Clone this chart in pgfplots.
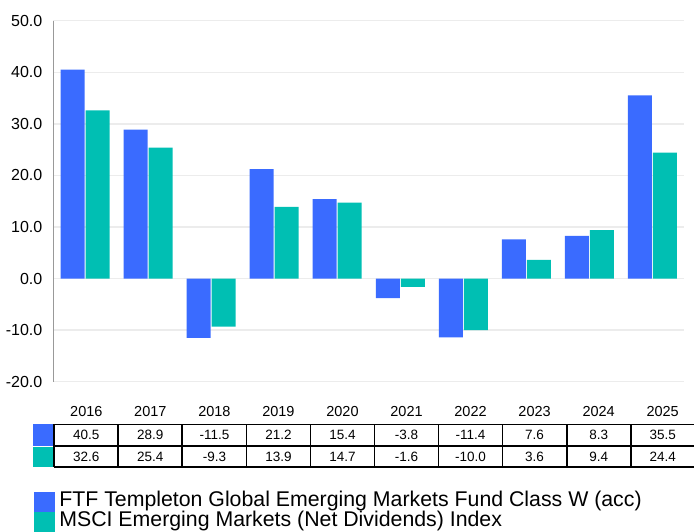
\documentclass[border=0pt]{standalone}
\usepackage{pgfplots}
\pgfplotsset{compat=1.18}
\usepackage{fontspec}
\setmainfont{Liberation Sans}
\definecolor{fblue}{RGB}{58,107,255}
\definecolor{fteal}{RGB}{0,191,179}
\definecolor{gridc}{RGB}{236,236,236}
\begin{document}
\begin{tikzpicture}
\useasboundingbox (-53.5bp,-150.3bp) rectangle (640.5bp,381.7bp);
\begin{axis}[name=main, at={(0,0)}, anchor=south west,
  scale only axis, width=630.5bp, height=361bp,
  xmin=-0.5, xmax=9.5, ymin=-20, ymax=50,
  ytick={-20,-10,...,50}, xtick=\empty,
  axis x line=none, axis y line=left,
  y axis line style={-, draw=gray!80, line width=0.9bp},
  ymajorgrids, grid style={gridc, line width=1.5bp},
  major tick length=0,
  /pgf/number format/assume math mode=true,
  yticklabel style={font=\fontsize{16bp}{18bp}\selectfont, inner sep=0pt, xshift=-11bp, anchor=east,
    /pgf/number format/fixed, /pgf/number format/fixed zerofill, /pgf/number format/precision=1},
  ybar=1bp, bar width=24bp,
  clip=false,
  legend style={at={(-0.0309,-0.3055)}, anchor=north west, draw=none, fill=none,
    inner sep=0pt, outer sep=0pt, row sep=0pt, column sep=4.3bp,
    font=\fontsize{21.3bp}{24bp}\selectfont,
    nodes={inner sep=0pt, text height=14.8bp, text depth=4.9bp}},
  legend cell align=left,
]
\addplot[fill=fblue, draw=none,
  legend image code/.code={\fill[fblue] (0bp,-10bp) rectangle (21bp,10bp);}]
  coordinates {(0,40.5) (1,28.9) (2,-11.5) (3,21.2) (4,15.4) (5,-3.8) (6,-11.4) (7,7.6) (8,8.3) (9,35.5)};
\addlegendentry{FTF Templeton Global Emerging Markets Fund Class W (acc)}
\addplot[fill=fteal, draw=none,
  legend image code/.code={\fill[fteal] (0bp,-10bp) rectangle (21bp,10bp);}]
  coordinates {(0,32.6) (1,25.4) (2,-9.3) (3,13.9) (4,14.7) (5,-1.6) (6,-10.0) (7,3.6) (8,9.4) (9,24.4)};
\addlegendentry{MSCI Emerging Markets (Net Dividends) Index}
\end{axis}
\begin{scope}[shift={(main.south west)}, x=1bp, y=1bp]
  % colour boxes
  \fill[fblue] (-20.2,-42.6) rectangle (0,-63.8);
  \fill[fteal] (-20.2,-65.4) rectangle (0,-85.5);
  % horizontal lines
  \draw[black, line width=1.5bp] (0.8,-42.6) -- (642,-42.6);
  \draw[black, line width=1.5bp] (0.8,-64.3) -- (642,-64.3);
  \draw[black, line width=1.5bp] (0.8,-85.5) -- (642,-85.5);
  % vertical lines
  \foreach \k in {0,...,9} {
    \draw[black, line width=1.8bp] ({0.8+64.04*\k},-42.6) -- ({0.8+64.04*\k},-85.5);
  }
  \foreach \yr/\a/\b [count=\i from 0] in {2016/40.5/32.6, 2017/28.9/25.4, 2018/-11.5/-9.3, 2019/21.2/13.9, 2020/15.4/14.7, 2021/-3.8/-1.6, 2022/-11.4/-10.0, 2023/7.6/3.6, 2024/8.3/9.4, 2025/35.5/24.4} {
    \node[font=\fontsize{14.5bp}{17bp}\selectfont, inner sep=0pt] at ({32.82+64.04*\i},-30) {\yr};
    \node[font=\fontsize{13.5bp}{16bp}\selectfont, inner sep=0pt] at ({32.82+64.04*\i},-53.5) {\a};
    \node[font=\fontsize{13.5bp}{16bp}\selectfont, inner sep=0pt] at ({32.82+64.04*\i},-74.9) {\b};
  }
\end{scope}
\end{tikzpicture}
\end{document}
